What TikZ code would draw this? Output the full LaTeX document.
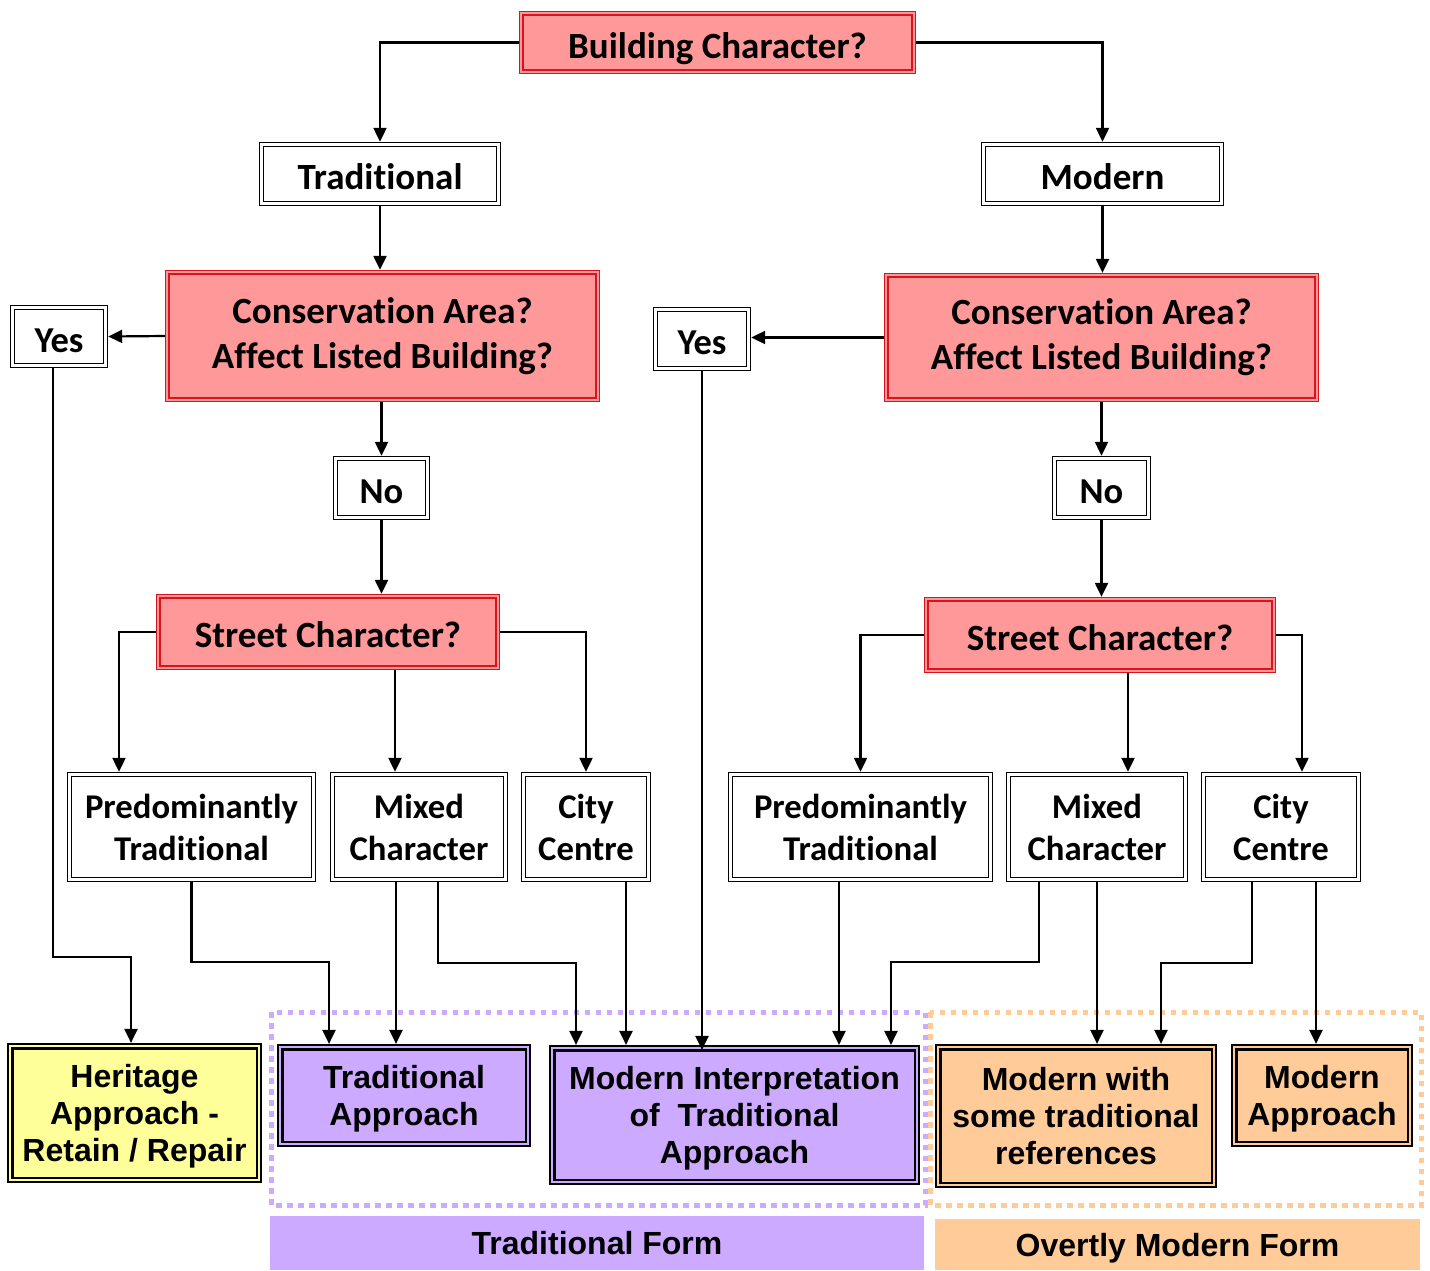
\documentclass[tikz,border=0pt]{standalone}
\usepackage{fontspec}
\setmainfont{Carlito}[Ligatures=NoCommon]
\newfontfamily\arialf{Liberation Sans}
\usetikzlibrary{arrows.meta,calc}
\definecolor{redfill}{HTML}{FF9999}
\definecolor{redline}{HTML}{D9141E}
\definecolor{purplefill}{HTML}{CCAAFF}
\definecolor{orangefill}{HTML}{FFCC99}
\definecolor{yellowfill}{HTML}{FFFF99}
\tikzset{
  base/.style={inner sep=0pt, align=center, font=\bfseries\fontsize{37}{45}\selectfont},
  smallbase/.style={base, font=\bfseries\fontsize{34.7}{42}\selectfont},
  yesnobase/.style={base, font=\bfseries\fontsize{36.5}{42}\selectfont},
  single/.style={text height=31pt, text depth=0pt},
  redbox/.style={base, fill=redfill, draw=redline, line width=1.3pt,
    path picture={\draw[redline,line width=2.6pt] ([shift={(3.6pt,-3.6pt)}]path picture bounding box.north west) rectangle ([shift={(-3.6pt,3.6pt)}]path picture bounding box.south east);}},
  wbox/.style={fill=white, draw=black, line width=1.4pt,
    path picture={\draw[black,line width=1.4pt] ([shift={(3.8pt,-3.8pt)}]path picture bounding box.north west) rectangle ([shift={(-3.8pt,3.8pt)}]path picture bounding box.south east);}},
  bigw/.style={wbox, base},
  smallw/.style={wbox, smallbase},
  yesnow/.style={wbox, yesnobase, single},
  outbox/.style={draw=black, line width=2.2pt, inner sep=0pt, align=center, text depth=0pt,
    font=\arialf\bfseries\fontsize{32}{37}\selectfont,
    path picture={\draw[black,line width=2.2pt] ([shift={(4.4pt,-4.4pt)}]path picture bounding box.north west) rectangle ([shift={(-4.4pt,4.4pt)}]path picture bounding box.south east);}},
  arr/.style={draw, line width=2.2pt, -{Triangle[length=14pt,width=13pt]}},
  region/.style={line width=5pt, dash pattern=on 5.5pt off 5.5pt},
  formlabel/.style={inner sep=0pt, text depth=0pt, font=\arialf\bfseries\fontsize{32}{37}\selectfont}
}
\begin{document}
\begin{tikzpicture}[x=1pt,y=-1pt]
\useasboundingbox (0,0) rectangle (1430,1270);
% regions
\draw[region, draw=purplefill] (271,1012) rectangle (925,1205);
\draw[region, draw=orangefill] (930,1012) rectangle (1421,1205);
\node[formlabel, fill=purplefill, minimum width=654, minimum height=54] (tf) at (597,1243) {Traditional Form};
\node[formlabel, fill=orangefill, minimum width=485, minimum height=51] (omf) at (1177.5,1244.5) {Overtly Modern Form};
% top
\node[redbox, single, minimum width=396, minimum height=62] (bc) at (717.5,42.5) {Building Character?};
\node[bigw, single, minimum width=241, minimum height=63] (trad) at (380,174) {Traditional};
\node[bigw, single, minimum width=242, minimum height=63] (mod) at (1102.5,174) {Modern};
\node[redbox, minimum width=434, minimum height=131] (consL) at (382.5,336) {Conservation Area?\\Affect Listed Building?};
\node[redbox, minimum width=434, minimum height=128] (consR) at (1101.5,337.5) {Conservation Area?\\Affect Listed Building?};
\node[yesnow, minimum width=97, minimum height=62] (yesL) at (59,336.5) {Yes};
\node[yesnow, minimum width=97, minimum height=63] (yesR) at (702,339) {Yes};
\node[yesnow, minimum width=96, minimum height=63] (noL) at (381.5,488) {No};
\node[yesnow, minimum width=98, minimum height=63] (noR) at (1101.5,488) {No};
\node[redbox, single, minimum width=343, minimum height=75] (stL) at (328,632) {Street Character?};
\node[redbox, single, minimum width=351, minimum height=75] (stR) at (1100,635) {Street Character?};
% level 2
\node[smallw, minimum width=248, minimum height=109] (ptL) at (191.5,827) {Predominantly\\Traditional};
\node[smallw, minimum width=177, minimum height=109] (mxL) at (419,827) {Mixed\\Character};
\node[smallw, minimum width=129, minimum height=109] (ccL) at (586,827) {City\\Centre};
\node[smallw, minimum width=264, minimum height=109] (ptR) at (860.5,827) {Predominantly\\Traditional};
\node[smallw, minimum width=181, minimum height=109] (mxR) at (1097,827) {Mixed\\Character};
\node[smallw, minimum width=159, minimum height=109] (ccR) at (1281,827) {City\\Centre};
% outcomes
\node[outbox, fill=yellowfill, minimum width=253, minimum height=138] (her) at (134.5,1113) {Heritage\\Approach -\\Retain / Repair};
\node[outbox, fill=purplefill, minimum width=252, minimum height=101] (ta) at (404,1095.5) {Traditional\\Approach};
\node[outbox, fill=purplefill, minimum width=369, minimum height=138] (mi) at (734.5,1115) {Modern Interpretation\\of~ Traditional\\Approach};
\node[outbox, fill=orangefill, minimum width=280, minimum height=142] (mw) at (1076,1116) {Modern with\\some traditional\\references};
\node[outbox, fill=orangefill, minimum width=180, minimum height=101] (ma) at (1322,1095.5) {Modern\\Approach};
% connectors
\draw[arr] (bc.west) -| (trad.north);
\draw[arr] (bc.east) -| (mod.north);
\draw[arr] (trad.south) -- (trad.south |- consL.north);
\draw[arr] (mod.south) -- (mod.south |- consR.north);
\draw[arr] (consL.west) -- (yesL.east);
\draw[arr] (consR.west) -- (consR.west -| yesR.east);
\draw[arr] (noL.north |- consL.south) -- (noL.north);
\draw[arr] (noR.north |- consR.south) -- (noR.north);
\draw[arr] (noL.south) -- (noL.south |- stL.north);
\draw[arr] (noR.south) -- (noR.south |- stR.north);
\draw[arr] (stL.west) -| ([xshift=-72.5pt]ptL.north);
\draw[arr] ([xshift=-24pt]mxL.north |- stL.south) -- ([xshift=-24pt]mxL.north);
\draw[arr] (stL.east) -| (ccL.north);
\draw[arr] (stR.west) -| (ptR.north);
\draw[arr] ([xshift=31pt]mxR.north |- stR.south) -- ([xshift=31pt]mxR.north);
\draw[arr] (stR.east) -| ([xshift=21pt]ccR.north);
\draw[arr] ([xshift=-6pt]yesL.south) -- ++(0,589) -| ([xshift=-3.5pt]her.north);
\draw[arr] (ptL.south) -- ++(0,80) -| ([xshift=-75pt]ta.north);
\draw[arr] ([xshift=-23pt]mxL.south) -- ([xshift=-23pt]mxL.south |- ta.north);
\draw[arr] ([xshift=19pt]mxL.south) -- ++(0,81) -| ([xshift=-158.5pt]mi.north);
\draw[arr] ([xshift=40pt]ccL.south) -- ([xshift=40pt]ccL.south |- mi.north);
\draw[arr] (yesR.south) -- ([yshift=-5pt]yesR.south |- mi.north);
\draw[arr] ([xshift=-21.5pt]ptR.south) -- ([xshift=-21.5pt]ptR.south |- mi.north);
\draw[arr] ([xshift=-58pt]mxR.south) -- ++(0,80) -| ([xshift=156.5pt]mi.north);
\draw[arr] (mxR.south) -- (mxR.south |- mw.north);
\draw[arr] ([xshift=-29pt]ccR.south) -- ++(0,81) -| ([xshift=85pt]mw.north);
\draw[arr] ([xshift=35pt]ccR.south) -- ([xshift=35pt]ccR.south |- ma.north);
\end{tikzpicture}
\end{document}
